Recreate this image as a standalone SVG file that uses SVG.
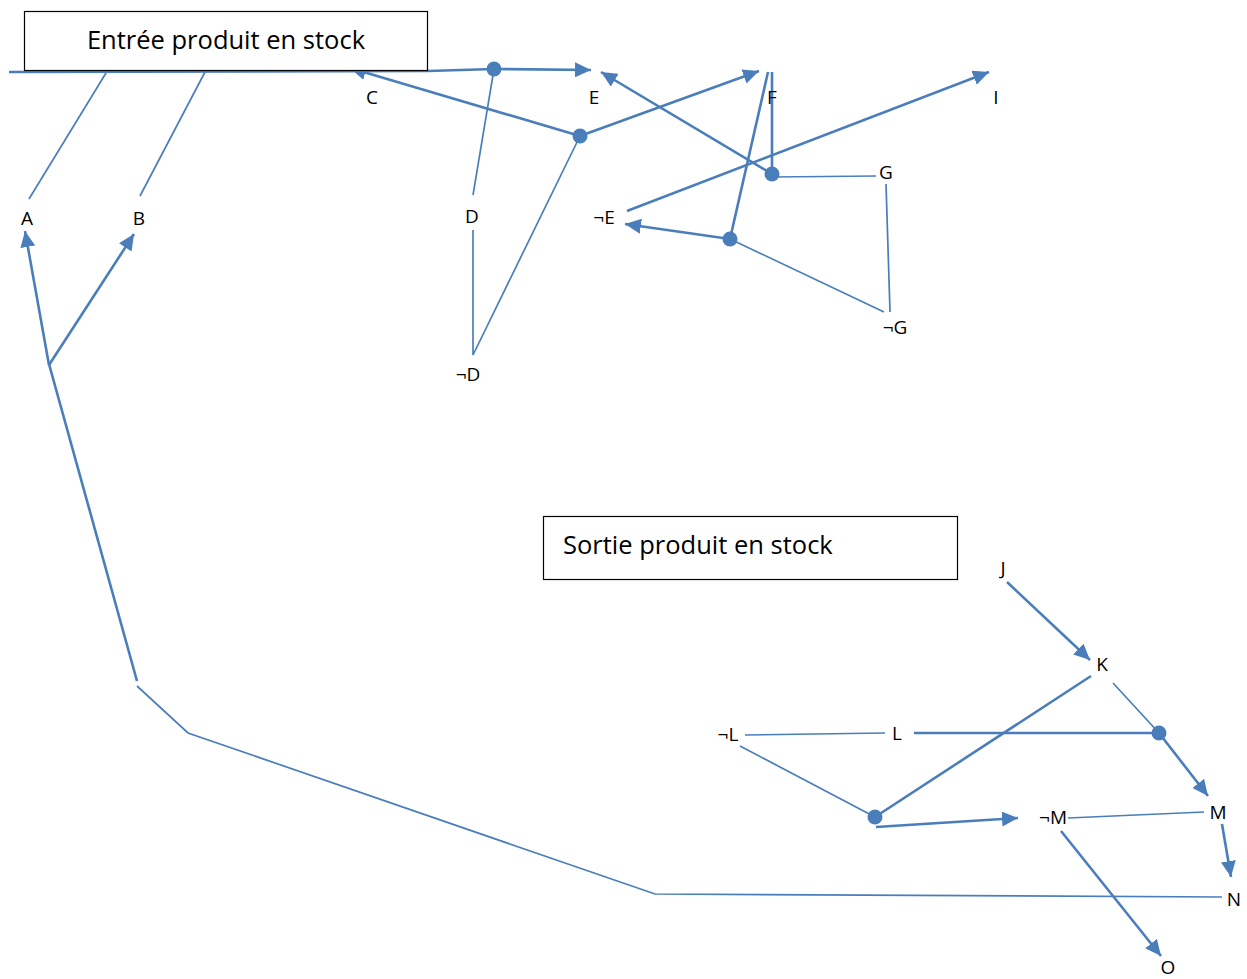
<svg xmlns="http://www.w3.org/2000/svg" width="1247" height="979" viewBox="0 0 1247 979">
<style>
.c{fill:none;stroke:#4a7ebb;stroke-linecap:butt}
.t{stroke-width:2.6}
.n{stroke-width:1.7}
.lbl{font-family:"Open Sans","Liberation Sans",Arial,sans-serif;font-size:19px;fill:#000;text-anchor:middle}
.ttl{font-family:"Open Sans","Liberation Sans",Arial,sans-serif;font-size:25.5px;fill:#000}
.box{fill:#fff;stroke:#000;stroke-width:1.2}
.dot{fill:#4a7ebb}
</style>
<defs>
<marker id="ah" markerUnits="userSpaceOnUse" markerWidth="17" markerHeight="15" refX="16" refY="7.5" orient="auto">
<path d="M0,0 L16,7.5 L0,15 z" fill="#4a7ebb"/>
</marker>
</defs>
<g id="connectors">
<path class="c t" d="M9,72 L428,71 L494,69"/>
<line class="c t" x1="494" y1="69" x2="591" y2="70" marker-end="url(#ah)"/>
<line class="c t" x1="580" y1="136" x2="350" y2="68" marker-end="url(#ah)"/>
<line class="c n" x1="494" y1="69" x2="473" y2="195"/>
<line class="c t" x1="580" y1="136" x2="759" y2="71" marker-end="url(#ah)"/>
<line class="c n" x1="580" y1="136" x2="473" y2="355"/>
<line class="c n" x1="473" y1="230" x2="473" y2="355"/>
<line class="c t" x1="772" y1="174" x2="601" y2="72" marker-end="url(#ah)"/>
<line class="c t" x1="772" y1="174" x2="772" y2="72"/>
<line class="c n" x1="772" y1="177" x2="876" y2="176"/>
<line class="c t" x1="768" y1="72" x2="730" y2="239"/>
<line class="c t" x1="730" y1="239" x2="625" y2="224" marker-end="url(#ah)"/>
<line class="c t" x1="627" y1="211" x2="989" y2="72" marker-end="url(#ah)"/>
<line class="c n" x1="730" y1="239" x2="884" y2="312"/>
<line class="c n" x1="886" y1="184" x2="890" y2="312"/>
<line class="c n" x1="106" y1="73" x2="29" y2="199"/>
<line class="c n" x1="205" y1="72" x2="140" y2="196"/>
<line class="c t" x1="49" y1="365" x2="25" y2="231" marker-end="url(#ah)"/>
<line class="c t" x1="49" y1="365" x2="134" y2="234" marker-end="url(#ah)"/>
<line class="c t" x1="49" y1="364" x2="137" y2="681"/>
<path class="c n" d="M137,686 L188,733 L655,894 L1222,897"/>
<line class="c t" x1="1007" y1="582" x2="1090" y2="660" marker-end="url(#ah)"/>
<line class="c n" x1="1113" y1="683" x2="1159" y2="733"/>
<line class="c t" x1="1159" y1="733" x2="1208" y2="796" marker-end="url(#ah)"/>
<line class="c n" x1="745" y1="735" x2="885" y2="733"/>
<line class="c t" x1="914" y1="733" x2="1159" y2="733"/>
<line class="c n" x1="740" y1="746" x2="875" y2="817"/>
<line class="c t" x1="875" y1="817" x2="1091" y2="676"/>
<line class="c t" x1="876" y1="827" x2="1018" y2="818" marker-end="url(#ah)"/>
<line class="c n" x1="1068" y1="818" x2="1204" y2="812"/>
<line class="c t" x1="1222" y1="824" x2="1231" y2="877" marker-end="url(#ah)"/>
<line class="c t" x1="1061" y1="831" x2="1161" y2="956" marker-end="url(#ah)"/>
</g>
<g id="box-entree">
<rect class="box" x="24.5" y="11.5" width="403" height="59"/>
<text class="ttl" x="226" y="49" text-anchor="middle">Entrée produit en stock</text>
</g>
<g id="box-sortie">
<rect class="box" x="543.5" y="516.5" width="414" height="63"/>
<text class="ttl" x="563" y="554">Sortie produit en stock</text>
</g>
<g id="junctions">
<circle id="j1" class="dot" cx="494" cy="69" r="7.5"/>
<circle id="j2" class="dot" cx="580" cy="136" r="7.5"/>
<circle id="j3" class="dot" cx="772" cy="174" r="7.5"/>
<circle id="j4" class="dot" cx="730" cy="239" r="7.5"/>
<circle id="j5" class="dot" cx="1159" cy="733" r="7.5"/>
<circle id="j6" class="dot" cx="875" cy="817" r="7.5"/>
</g>
<g id="node-A"><text class="lbl" x="27" y="225">A</text></g>
<g id="node-B"><text class="lbl" x="139" y="225">B</text></g>
<g id="node-C"><text class="lbl" x="372" y="104">C</text></g>
<g id="node-D"><text class="lbl" x="472" y="223">D</text></g>
<g id="node-notD"><text class="lbl" x="468" y="381">¬D</text></g>
<g id="node-E"><text class="lbl" x="594" y="104">E</text></g>
<g id="node-notE"><text class="lbl" x="604" y="224">¬E</text></g>
<g id="node-F"><text class="lbl" x="772" y="104">F</text></g>
<g id="node-G"><text class="lbl" x="886" y="179">G</text></g>
<g id="node-notG"><text class="lbl" x="895" y="334">¬G</text></g>
<g id="node-I"><text class="lbl" x="996" y="104">I</text></g>
<g id="node-J"><text class="lbl" x="1003" y="575">J</text></g>
<g id="node-K"><text class="lbl" x="1102" y="671">K</text></g>
<g id="node-L"><text class="lbl" x="897" y="740">L</text></g>
<g id="node-notL"><text class="lbl" x="728" y="741">¬L</text></g>
<g id="node-M"><text class="lbl" x="1218" y="819">M</text></g>
<g id="node-notM"><text class="lbl" x="1053" y="824">¬M</text></g>
<g id="node-N"><text class="lbl" x="1234" y="906">N</text></g>
<g id="node-O"><text class="lbl" x="1168" y="974">O</text></g>
</svg>
